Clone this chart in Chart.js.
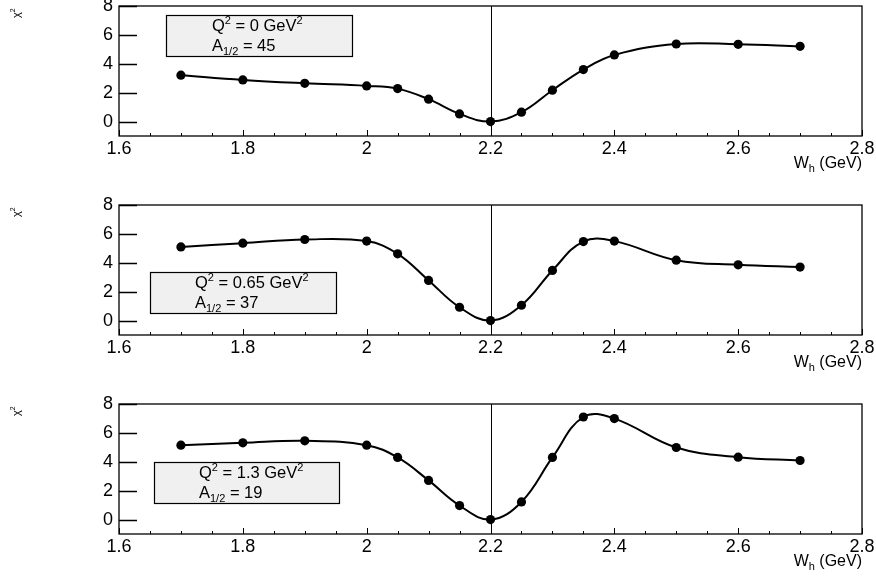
<!DOCTYPE html>
<html>
<head>
<meta charset="utf-8">
<script src="https://cdn.jsdelivr.net/npm/chart.js@4.4.1/dist/chart.umd.min.js"></script>
<style>
  html, body { margin: 0; padding: 0; background: #fff; overflow: hidden; }
  .panel { position: absolute; left: 0; width: 876px; height: 185px; }
</style>
</head>
<body>
<div class="panel" style="top:-5px"><canvas id="c0" width="876" height="185"></canvas></div>
<div class="panel" style="top:194px"><canvas id="c1" width="876" height="185"></canvas></div>
<div class="panel" style="top:393px"><canvas id="c2" width="876" height="185"></canvas></div>
<script>
// W_h grid points (GeV)
const wValues = [1.7, 1.8, 1.9, 2.0, 2.05, 2.1, 2.15, 2.2, 2.25, 2.3, 2.35, 2.4, 2.5, 2.6, 2.7];

// chi^2 for each Q^2
const chi2Q0   = [3.21, 2.88, 2.65, 2.47, 2.28, 1.55, 0.53, 0, 0.65, 2.17, 3.60, 4.61, 5.37, 5.35, 5.21];
const chi2Q065 = [5.10, 5.36, 5.61, 5.50, 4.62, 2.78, 0.92, 0, 1.06, 3.47, 5.47, 5.50, 4.18, 3.86, 3.70];
const chi2Q13  = [5.15, 5.31, 5.45, 5.15, 4.30, 2.71, 0.97, 0, 1.22, 4.30, 7.10, 6.99, 4.99, 4.32, 4.09];

const q2Labels = ["0", "0.65", "1.3"];
const a12Values = [45, 37, 19];
const xTicks = [1.6, 1.8, 2.0, 2.2, 2.4, 2.6, 2.8];
const yTicks = [0, 2, 4, 6, 8];
const markerW = 2.2;

const FONT = "'Liberation Sans', Arial, Helvetica, sans-serif";

// legend box placement per panel (canvas pixels)
const boxes = [
	{x: 166, y: 20, w: 186, h: 41, tx: 212},
	{x: 150, y: 78, w: 186, h: 41, tx: 195},
	{x: 154, y: 69, w: 185, h: 41, tx: 199}
];

function richText(ctx, parts, x, y, align) {
	let total = 0;
	parts.forEach(p => {
		ctx.font = p.size + "px " + FONT;
		p.w = ctx.measureText(p.text).width;
		total += p.w;
	});
	let cx = align === "right" ? x - total : x;
	ctx.textAlign = "left";
	ctx.textBaseline = "alphabetic";
	parts.forEach(p => {
		ctx.font = p.size + "px " + FONT;
		ctx.fillText(p.text, cx, y + (p.dy || 0));
		cx += p.w;
	});
}

const rootStyle = {
	id: "rootStyle",
	beforeDatasetsDraw(chart) {
		const ctx = chart.ctx;
		const a = chart.chartArea;
		const xs = chart.scales.x;
		ctx.save();
		ctx.strokeStyle = "#000";
		ctx.lineWidth = 1;
		const px = Math.round(xs.getPixelForValue(markerW)) + 0.5;
		ctx.beginPath();
		ctx.moveTo(px, a.top);
		ctx.lineTo(px, a.bottom);
		ctx.stroke();
		ctx.restore();
	},
	afterDraw(chart, args, opts) {
		const ctx = chart.ctx;
		const a = chart.chartArea;
		const xs = chart.scales.x;
		const ys = chart.scales.y;
		ctx.save();
		ctx.strokeStyle = "#000";
		ctx.fillStyle = "#000";

		// frame
		ctx.lineWidth = 1.3;
		ctx.strokeRect(a.left, a.top, a.right - a.left, a.bottom - a.top);

		// x ticks, pointing inward
		ctx.lineWidth = 1;
		ctx.beginPath();
		for (let i = 0; i <= 24; i++) {
			const p = Math.round(xs.getPixelForValue(1.6 + i * 0.05)) + 0.5;
			const len = i % 4 === 0 ? 6 : 3;
			ctx.moveTo(p, a.bottom);
			ctx.lineTo(p, a.bottom - len);
		}
		ctx.stroke();

		// y ticks
		ctx.lineWidth = 1.3;
		ctx.beginPath();
		yTicks.forEach(v => {
			const p = Math.round(ys.getPixelForValue(v)) + 0.5;
			ctx.moveTo(a.left, p);
			ctx.lineTo(a.left + 18, p);
		});
		ctx.stroke();

		// chi^2 axis title
		ctx.save();
		ctx.translate(20, opts.chiY);
		ctx.rotate(-Math.PI / 2);
		richText(ctx, [
			{text: "\u03c7", size: 11},
			{text: "2", size: 7, dy: -5}
		], -6, 0, "left");
		ctx.restore();

		// x axis title
		richText(ctx, [
			{text: "W", size: 16},
			{text: "h", size: 11, dy: 4},
			{text: " (GeV)", size: 16}
		], a.right, a.bottom + 32, "right");

		// legend box
		const b = opts.box;
		ctx.fillStyle = "#f0f0f0";
		ctx.fillRect(b.x, b.y, b.w, b.h);
		ctx.lineWidth = 1.2;
		ctx.strokeRect(b.x + 0.5, b.y + 0.5, b.w, b.h);
		ctx.fillStyle = "#000";
		richText(ctx, [
			{text: "Q", size: 16.5},
			{text: "2", size: 11, dy: -7},
			{text: " = " + opts.q2 + " GeV", size: 16.5},
			{text: "2", size: 11, dy: -7}
		], b.tx, b.y + 16, "left");
		richText(ctx, [
			{text: "A", size: 16.5},
			{text: "1/2", size: 11, dy: 4},
			{text: " = " + opts.a12, size: 16.5}
		], b.tx, b.y + 35.5, "left");
		ctx.restore();
	}
};

function buildChart(canvasId, values, idx) {
	const tickFont = {family: FONT, size: 18};
	return new Chart(document.getElementById(canvasId), {
		type: "scatter",
		data: {
			datasets: [{
				data: wValues.map((w, i) => ({x: w, y: values[i]})),
				showLine: true,
				borderColor: "#000",
				backgroundColor: "#000",
				borderWidth: 2,
				pointRadius: 4.6,
				pointHoverRadius: 4.6,
				pointBorderWidth: 0,
				tension: 0.4
			}]
		},
		options: {
			responsive: false,
			animation: false,
			devicePixelRatio: 1,
			events: [],
			layout: {padding: {left: 0, right: 14, top: 11, bottom: 0}},
			plugins: {
				legend: {display: false},
				tooltip: {enabled: false},
				rootStyle: {box: boxes[idx], q2: q2Labels[idx], a12: a12Values[idx], chiY: 17}
			},
			scales: {
				x: {
					type: "linear",
					min: 1.6,
					max: 2.8,
					afterBuildTicks: s => { s.ticks = xTicks.map(v => ({value: v})); },
					afterFit: s => { s.height = 44; s.paddingLeft = 0; s.paddingRight = 0; },
					grid: {display: false, drawTicks: false},
					border: {display: false},
					ticks: {
						color: "#000",
						font: tickFont,
						padding: 2,
						maxRotation: 0,
						autoSkip: false,
						callback: v => String(+v.toFixed(2))
					}
				},
				y: {
					type: "linear",
					min: -1,
					max: 8,
					afterBuildTicks: s => { s.ticks = yTicks.map(v => ({value: v})); },
					afterFit: s => { s.width = 119; s.paddingTop = 0; s.paddingBottom = 0; },
					grid: {display: false, drawTicks: false},
					border: {display: false},
					ticks: {color: "#000", font: tickFont, padding: 6}
				}
			}
		},
		plugins: [rootStyle]
	});
}

buildChart("c0", chi2Q0, 0);
buildChart("c1", chi2Q065, 1);
buildChart("c2", chi2Q13, 2);
</script>
</body>
</html>
